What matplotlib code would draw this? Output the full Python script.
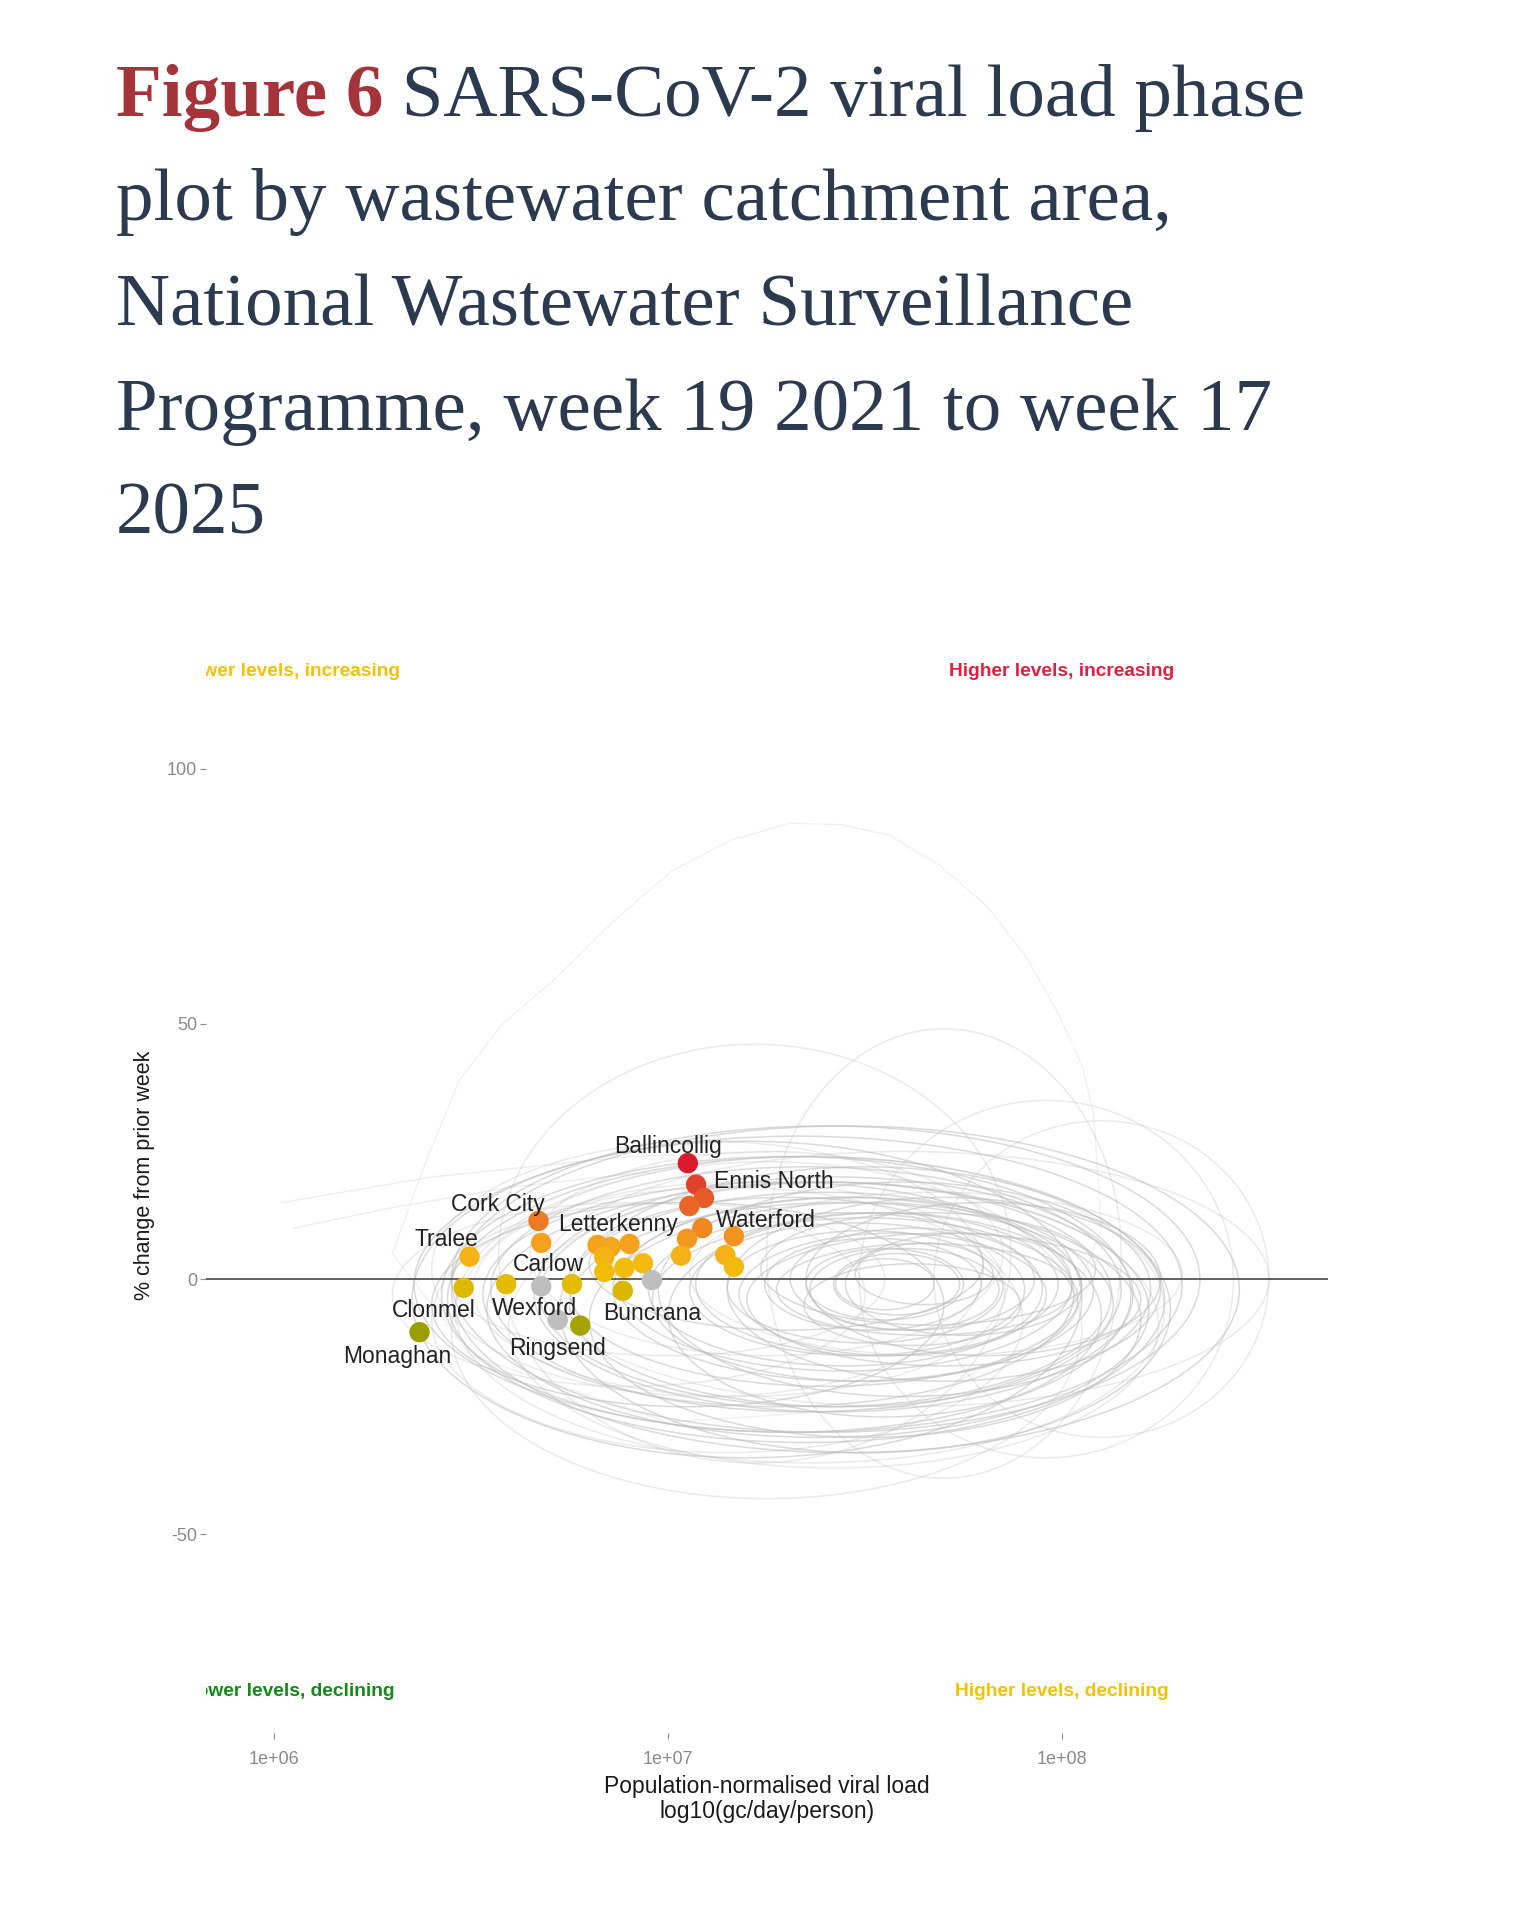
import numpy as np
import matplotlib
matplotlib.use('Agg')
import matplotlib.pyplot as plt
from matplotlib.patches import Ellipse
from matplotlib.colors import LinearSegmentedColormap, Normalize

# latest week, one point per catchment (x in log10 gc/day/person, y in %)
load_log10 = [7.050, 7.071, 7.091, 7.054, 7.087, 6.671, 6.678, 6.496, 6.821, 6.854,
              6.902, 6.838, 6.838, 6.889, 6.936, 7.048, 7.033, 7.167, 7.145, 7.167,
              6.959, 6.481, 6.589, 6.678, 6.756, 6.885, 6.369, 6.777, 6.720]
pct_change = [22.7, 18.5, 15.9, 14.3, 10.0, 11.4, 7.1, 4.4, 6.7, 6.3,
              6.9, 4.3, 1.4, 2.2, 3.1, 7.9, 4.6, 8.4, 4.7, 2.4,
              -0.2, -1.7, -1.0, -1.4, -1.0, -2.3, -10.4, -9.1, -8.0]
no_trend = [False] * 20 + [True, False, False, True, False, False, False, False, True]

label_names = ['Ballincollig', 'Ennis North', 'Waterford', 'Letterkenny', 'Cork City', 'Tralee',
               'Carlow', 'Clonmel', 'Wexford', 'Buncrana', 'Ringsend', 'Monaghan']
label_x = [7.001, 7.269, 7.249, 6.874, 6.567, 6.438, 6.696, 6.404, 6.661, 6.959, 6.720, 6.313]
label_y = [25.9, 19.1, 11.4, 10.7, 14.7, 7.8, 2.9, -6.1, -5.7, -6.7, -13.6, -15.1]

# history loops (centre x, centre y, width in decades, height in %)
loop_x = [7.55, 7.55, 7.52, 7.50, 7.48, 7.45, 7.45, 7.40, 7.40, 7.35, 7.30, 7.40, 7.45,
          7.60, 7.20, 7.10, 7.05, 7.25, 7.70, 7.80, 7.75, 7.65, 7.00, 6.90, 7.15, 7.30,
          7.70, 7.22, 7.96, 8.10, 7.60, 7.50,
          7.58, 7.60, 7.62, 7.57, 7.53, 7.50, 7.47, 7.44, 7.42, 7.38, 7.35, 7.33,
          7.65, 7.70, 7.68, 7.55, 7.50, 7.42, 7.36, 7.28, 7.62, 7.66, 7.25, 7.18]
loop_y = [-1, -1, -1, -1.5, -2, -2, -1, -2, -3, -2, -3, 0, -2,
          0, -4, 2, -5, 5, -2, 0, -1, 1, 0, -3, -8, 3,
          5, 5, 0, 0, -2, -6,
          -1, -2, 0, -3, -1, -4, -2, -5, -3, -6, -4, -1,
          -2, -4, 1, -7, -8, -9, -6, -3, -5, 2, -10, -2]
loop_w = [0.25, 0.40, 0.55, 0.70, 0.85, 1.00, 1.15, 1.30, 1.45, 1.60, 1.75, 1.90, 2.00,
          1.85, 1.70, 1.40, 1.30, 1.20, 1.10, 0.90, 0.60, 0.35, 1.10, 1.20, 1.50, 1.00,
          0.90, 1.30, 0.95, 0.85, 1.25, 1.55,
          0.32, 0.48, 0.62, 0.78, 0.92, 1.08, 1.22, 1.38, 1.52, 1.68, 1.82, 1.95,
          0.75, 1.00, 1.25, 1.10, 1.40, 1.65, 1.80, 1.50, 0.55, 0.85, 1.60, 1.35]
loop_h = [10, 14, 18, 22, 26, 30, 34, 38, 44, 48, 54, 60, 64,
          50, 62, 50, 40, 40, 36, 30, 20, 12, 30, 36, 52, 26,
          88, 82, 70, 62, 42, 56,
          12, 16, 20, 24, 28, 32, 36, 40, 46, 50, 56, 58,
          18, 26, 32, 40, 46, 56, 60, 44, 16, 22, 66, 42]
loop_faint = ([False] * 13 + [True, False, True, False, True, False, False, False, False,
                              True, True, True, False, True, True, True, True, False, False]
              + [False] * 12 + [False, False, True, False, False, True, True, False,
                                False, False, True, True])

# faint open trajectories
big_x = [6.30, 6.38, 6.47, 6.58, 6.71, 6.86, 7.01, 7.16, 7.31, 7.44, 7.56, 7.69, 7.81,
         7.91, 7.99, 8.05, 8.08, 8.10, 8.00, 7.60, 7.00, 6.50, 6.30]
big_y = [5, 22, 39, 50, 58.6, 70, 80, 86, 89.3, 89, 87, 81, 73,
         63, 52, 42, 32.5, 10, -10, -25, -28, -15, 5]
left1_x = [6.02, 6.40, 6.90, 7.30]
left1_y = [15, 20, 24, 25]
left2_x = [6.05, 6.30, 6.60, 6.95]
left2_y = [10, 14, 18, 21]

quad_text = ['Lower levels, increasing', 'Higher levels, increasing',
             'Lower levels, declining', 'Higher levels, declining']
quad_x = [6.04, 8.0, 6.04, 8.0]
quad_y = [119, 119, -80.7, -80.7]
quad_col = ['#F2C200', '#E0203F', '#138A17', '#F2C200']

fig = plt.figure(figsize=(15.13, 19.2), dpi=100)
fig.patch.set_facecolor('white')

# title
navy = '#2B3A4E'
t1 = fig.text(0.0767, 1 - 116 / 1920, 'Figure 6', family='Liberation Serif', fontsize=54,
              fontweight='bold', color='#A4343A', va='baseline')
r = fig.canvas.get_renderer()
bb = t1.get_window_extent(renderer=r)
fig.text(bb.x1 / 1513, 1 - 116 / 1920, ' SARS-CoV-2 viral load phase', family='Liberation Serif',
         fontsize=54, color=navy, va='baseline')
rest = ['plot by wastewater catchment area,', 'National Wastewater Surveillance',
        'Programme, week 19 2021 to week 17', '2025']
for i, line in enumerate(rest):
    fig.text(0.0767, 1 - (116 + 104.5 * (i + 1)) / 1920, line, family='Liberation Serif',
             fontsize=54, color=navy, va='baseline')

ax = fig.add_axes([0.1359, 0.0974, 0.7418, 0.5813])
ax.set_xlim(5.826, 8.675)
ax.set_ylim(-88.9, 129.7)
for s in ax.spines.values():
    s.set_visible(False)

for i in range(len(loop_x)):
    e = Ellipse((loop_x[i], loop_y[i]), loop_w[i], loop_h[i], fill=False,
                edgecolor='#BDBDBD', lw=1.1, alpha=0.3 if loop_faint[i] else 0.55, zorder=1)
    ax.add_patch(e)
ax.plot(big_x, big_y, color='#BDBDBD', lw=1.0, alpha=0.2, zorder=1)
ax.plot(left1_x, left1_y, color='#BDBDBD', lw=1.0, alpha=0.25, zorder=1)
ax.plot(left2_x, left2_y, color='#BDBDBD', lw=1.0, alpha=0.25, zorder=1)

ax.axhline(0, color='#555555', lw=1.3, zorder=2)

cmap = LinearSegmentedColormap.from_list('phase', [
    (0.0, '#8C9A00'), (0.2, '#C8B000'), (0.35, '#EDBE00'), (0.45, '#F5B814'),
    (0.55, '#F59F20'), (0.67, '#EE7A22'), (0.8, '#E65A2A'), (1.0, '#D7192C')])
norm = Normalize(vmin=-12, vmax=23)
cols = [('#BEBEBE' if g else cmap(norm(v))) for v, g in zip(pct_change, no_trend)]
ax.scatter(load_log10, pct_change, s=215, c=cols, linewidths=0, zorder=3)

for n, x, y in zip(label_names, label_x, label_y):
    ax.text(x, y, n, family='Liberation Sans', fontsize=16.5, color='#222222',
            ha='center', va='center', zorder=4)

for txt, x, y, c in zip(quad_text, quad_x, quad_y, quad_col):
    ax.text(x, y, txt, family='Liberation Sans', fontsize=13.8, fontweight='bold',
            color=c, ha='center', va='center', clip_on=True)

ax.set_xticks([6, 7, 8])
ax.set_xticklabels(['1e+06', '1e+07', '1e+08'])
ax.set_yticks([-50, 0, 50, 100])
ax.set_yticklabels(['-50', '0', '50', '100'])
ax.tick_params(axis='both', colors='#8A8A8A', labelsize=13, length=4, width=0.8)
ax.tick_params(axis='x', pad=9)
ax.tick_params(axis='y', pad=2)
for lab in ax.get_xticklabels() + ax.get_yticklabels():
    lab.set_family('Liberation Sans')

fig.text(0.5068, 1 - 1799 / 1920, 'Population-normalised viral load\nlog10(gc/day/person)',
         family='Liberation Sans', fontsize=16.5, color='#1A1A1A', ha='center', va='center',
         linespacing=1.1)
fig.text(0.0955, 1 - 1175 / 1920, '% change from prior week', family='Liberation Sans',
         fontsize=15.5, color='#1A1A1A', rotation=90, ha='center', va='center')

fig.savefig('out.png', dpi=100)
